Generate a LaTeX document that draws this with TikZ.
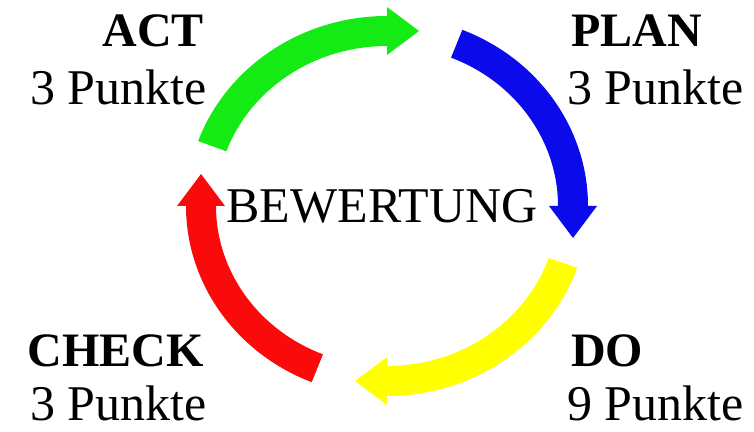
\documentclass[tikz,border=0pt]{standalone}
\usepackage{fontspec}
\setmainfont{Liberation Serif}
\usetikzlibrary{calc}

% ellipse radii of the cycle, half band width, half head width, head length
\newcommand\Rx{186}
\newcommand\Ry{175}
\newcommand\bw{15}
\newcommand\hw{24}
\newcommand\hl{32}

% #1 colour, #2 tail angle, #3 head-base angle, #4 tip offset
\newcommand\cyclearrow[4]{%
  \fill[#1]
    ($(C)+(#2:{\Rx+\bw} and {\Ry+\bw})$)
      arc[start angle=#2, end angle=#3, x radius=\Rx+\bw, y radius=\Ry+\bw]
    -- ($(C)+(#3:{\Rx+\hw} and {\Ry+\hw})$)
    -- ($(C)+(#3:{\Rx} and {\Ry})+(#4)$)
    -- ($(C)+(#3:{\Rx-\hw} and {\Ry-\hw})$)
    -- ($(C)+(#3:{\Rx-\bw} and {\Ry-\bw})$)
      arc[start angle=#3, end angle=#2, x radius=\Rx-\bw, y radius=\Ry-\bw]
    -- cycle;}

\definecolor{actgreen}{RGB}{20,235,20}
\definecolor{planblue}{RGB}{10,10,235}
\definecolor{doyellow}{RGB}{255,255,0}
\definecolor{checkred}{RGB}{250,10,10}

\begin{document}
\begin{tikzpicture}[x=1pt,y=1pt,
  phase/.style={inner sep=0pt, font=\fontsize{48}{56}\selectfont\bfseries},
  points/.style={inner sep=0pt, font=\fontsize{50}{58}\selectfont},
  centre/.style={inner sep=0pt, font=\fontsize{50}{58}\selectfont}]
\useasboundingbox (0,0) rectangle (754,431);
\fill[white] (0,0) rectangle (754,431);

\coordinate (C) at (387,225);

% the four arrows of the cycle, clockwise
\cyclearrow{actgreen}{160}{90}{\hl,0}
\cyclearrow{planblue}{68}{0}{0,-\hl}
\cyclearrow{doyellow}{-19}{-90}{-\hl,0}
\cyclearrow{checkred}{-112}{-180}{0,\hl}

\node[centre, anchor=base] (bew) at (382,208) {BEWERTUNG};

\node[phase, anchor=base east] (act) at (204,384) {ACT};
\node[points, anchor=base east] (actp) at (207,326) {3 Punkte};

\node[phase, anchor=base west] (plan) at (571,384) {PLAN};
\node[points, anchor=base west] (planp) at (567,326) {3 Punkte};

\node[phase, anchor=base west] (do) at (571,65) {DO};
\node[points, anchor=base west] (dop) at (567,11) {9 Punkte};

\node[phase, anchor=base east] (check) at (204,65) {CHECK};
\node[points, anchor=base east] (checkp) at (207,11) {3 Punkte};
\end{tikzpicture}
\end{document}
